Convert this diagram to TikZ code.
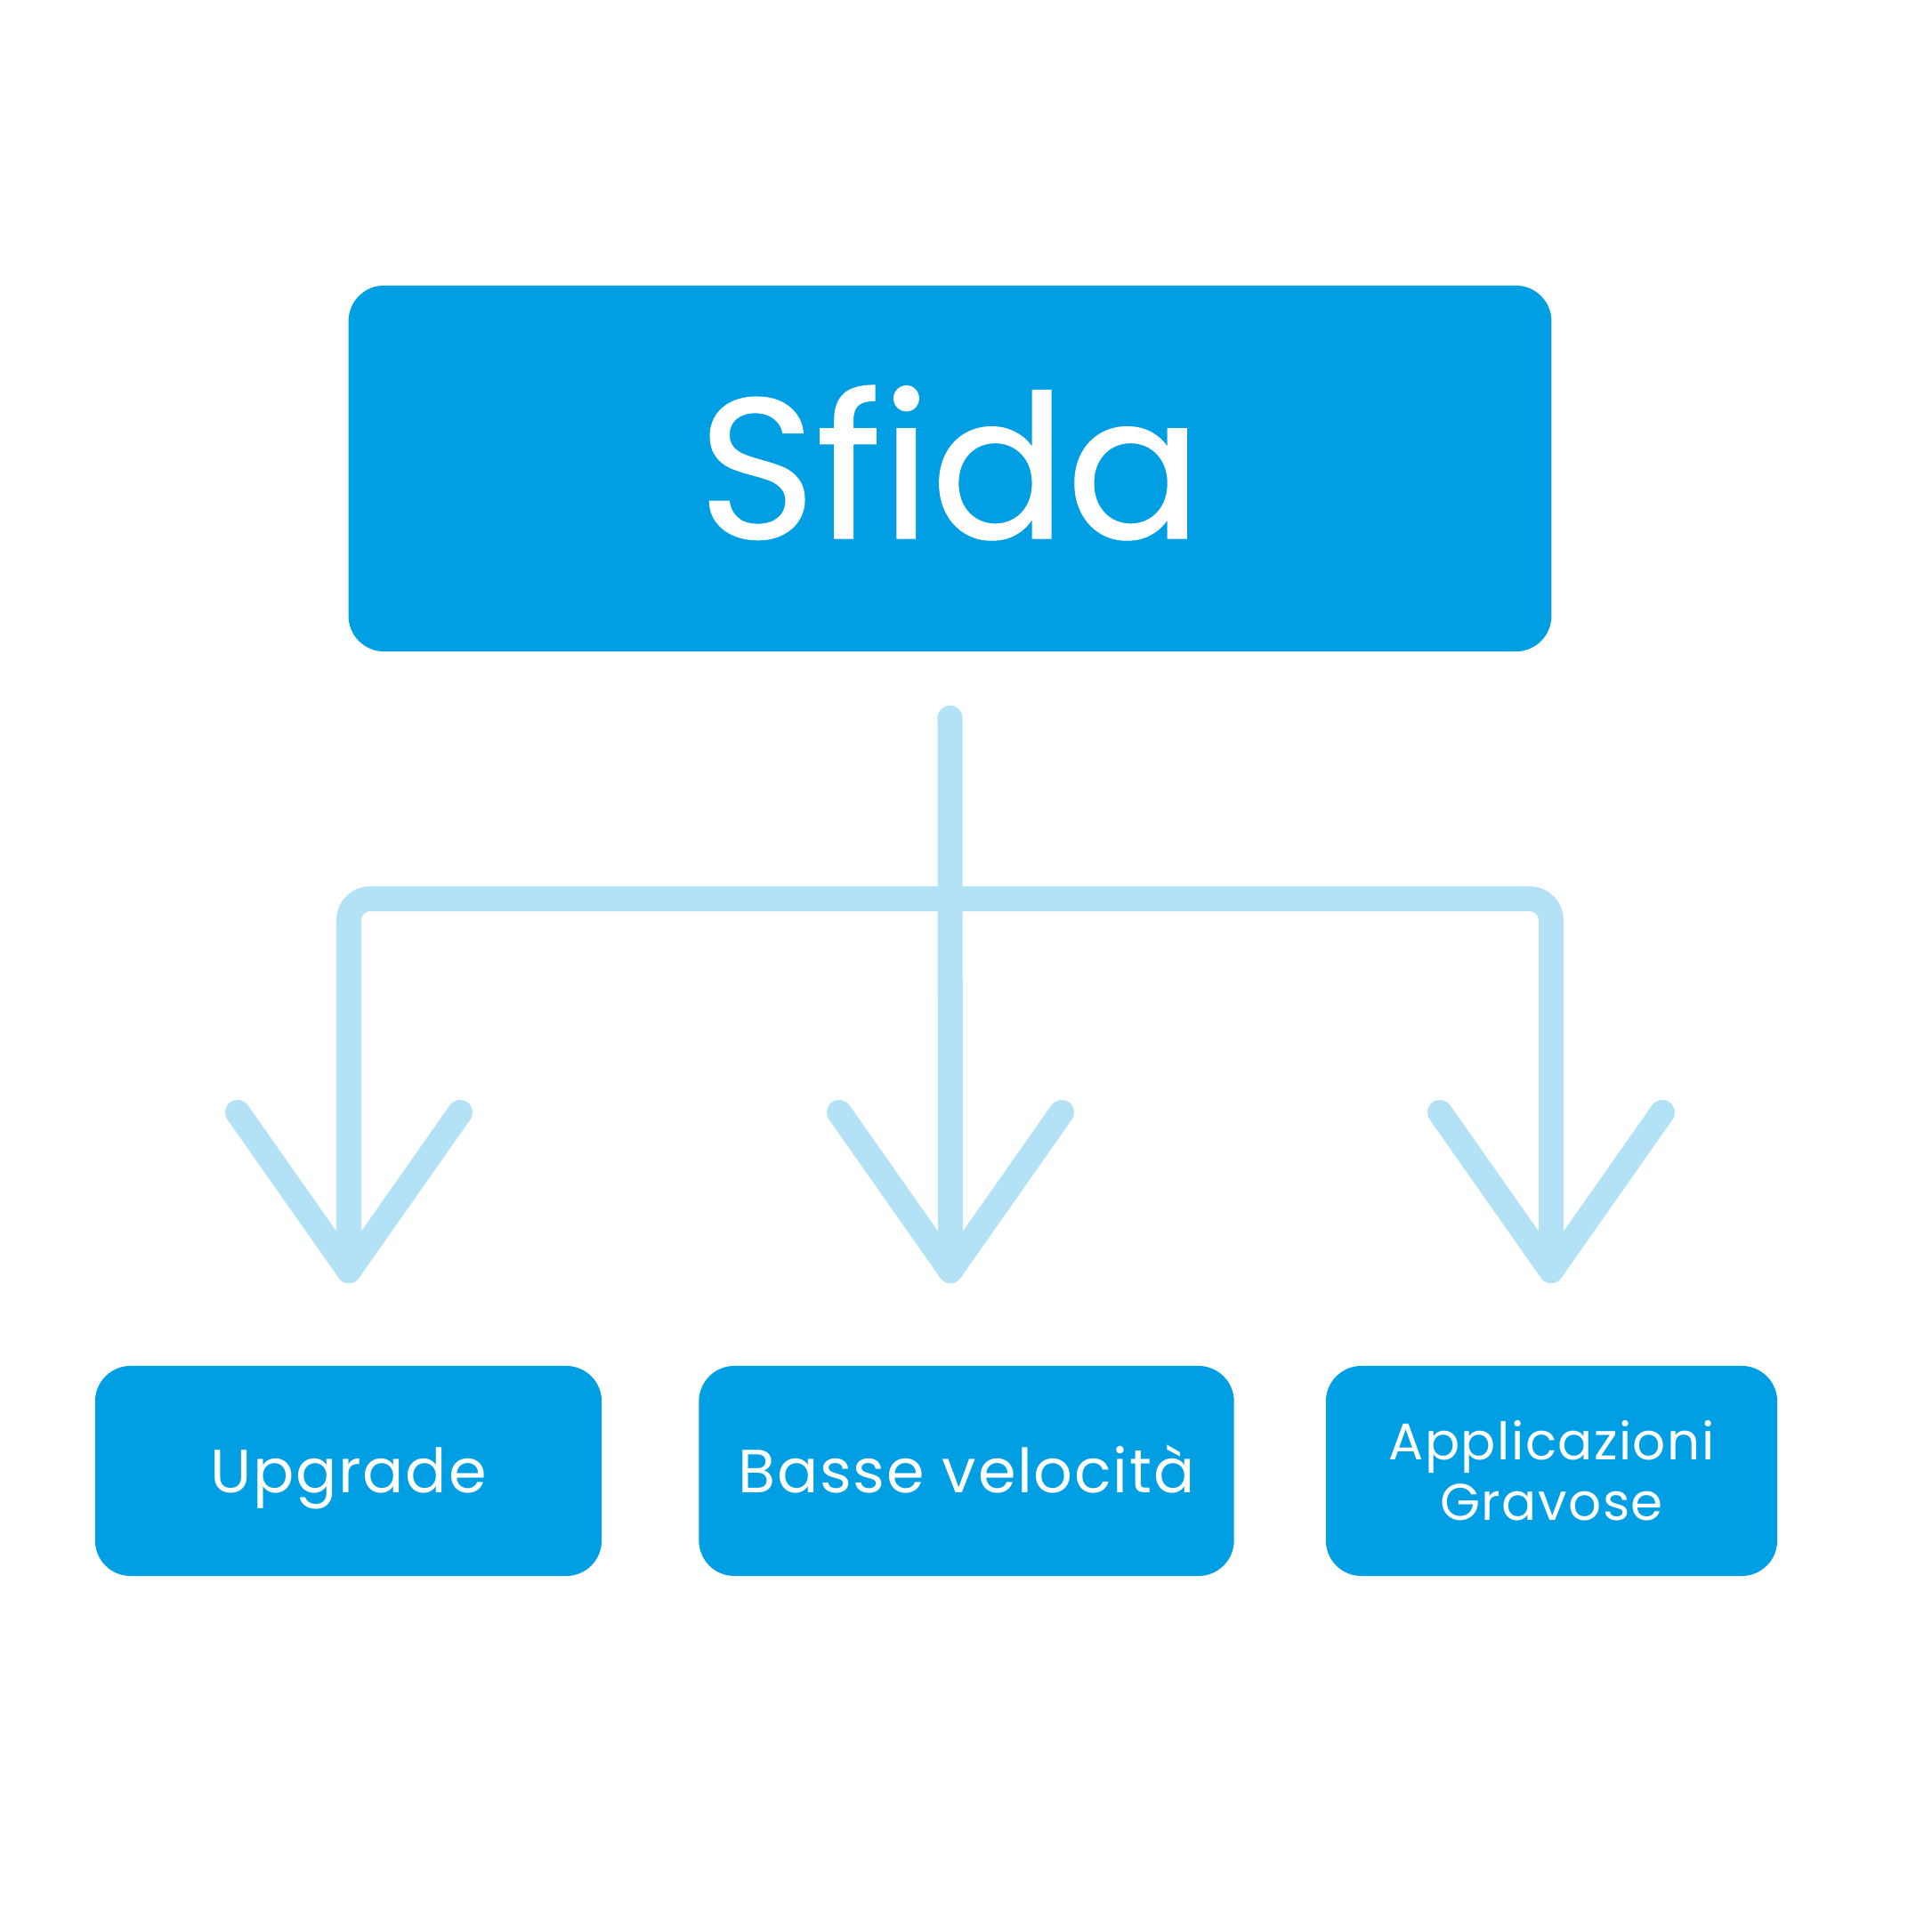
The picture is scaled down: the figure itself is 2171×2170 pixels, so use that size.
\documentclass[tikz,border=0pt]{standalone}
\usepackage{fontspec}
\setmainfont{Poppins}
\newfontfamily\titlefont{Poppins}[FakeBold=0.6]
\newfontfamily\labelfont{Poppins}[LetterSpace=2.5]
\definecolor{boxblue}{HTML}{009FE3}
\definecolor{linkblue}{HTML}{B3E2F7}
\tikzset{
  bigbox/.style={
    fill=boxblue,
    rounded corners=0.4cm,
    minimum width=13.51cm,
    minimum height=4.11cm,
    inner sep=0pt,
    text=white,
    text height=1.57cm,
    text depth=0pt,
    font=\titlefont\fontsize{64}{70}\selectfont
  },
  smallbox/.style={
    fill=boxblue,
    rounded corners=0.4cm,
    minimum height=2.36cm,
    inner sep=0pt,
    text=white,
    align=center,
    font=\labelfont\fontsize{19.5}{24}\selectfont
  },
  oneline/.style={
    text height=0.48cm,
    text depth=0pt
  },
  link/.style={
    draw=linkblue,
    line width=0.28cm,
    line cap=round,
    line join=round
  }
}

\begin{document}
\begin{tikzpicture}[x=0.01cm,y=-0.01cm]
  \useasboundingbox (0,0) rectangle (2171,2170);
  \node[bigbox] (sfida) at (1067.5,526.5) {Sfida};
  \node[smallbox,oneline,minimum width=5.69cm] (upgrade) at (391.5,1653) {Upgrade};
  \node[smallbox,oneline,minimum width=6.01cm] (basse) at (1086,1653) {Basse velocità};
  \node[smallbox,minimum width=5.07cm,
        font=\labelfont\fontsize{16.5}{19.4}\selectfont] (appl) at (1743.5,1653) {Applicazioni\\Gravose};
  % connectors
  \coordinate (stem) at ([yshift=-0.74cm]sfida.south);
  \coordinate (bar) at (1068,1010);
  \foreach \x/\name in {392/tipA,1068/tipB,1743/tipC}{
    \coordinate (\name) at (\x,1428);
  }
  \draw[link,rounded corners=0.24cm] (tipA) |- (bar) -| (tipC);
  \draw[link] (stem) -- (tipB);
  \foreach \t in {tipA,tipB,tipC}{
    \draw[link] ([shift={(-125,-178)}]\t) -- (\t) -- ([shift={(125,-178)}]\t);
  }
\end{tikzpicture}
\end{document}
